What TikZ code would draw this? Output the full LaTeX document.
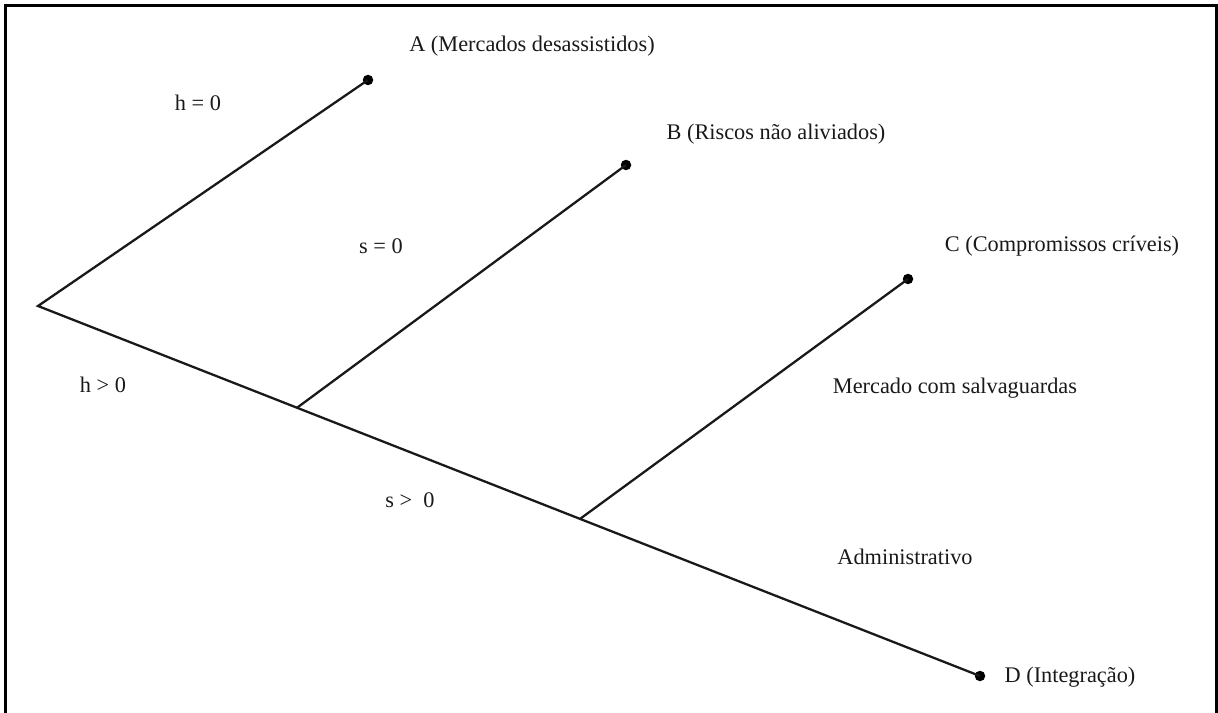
\documentclass[tikz,border=0pt]{standalone}
\usepackage{fontspec}
\setmainfont{Liberation Serif}
\usetikzlibrary{calc}

\begin{document}
\begin{tikzpicture}[x=0.02cm,y=-0.02cm,font=\fontsize{12.7}{15}\selectfont,
 br/.style={line width=1.3pt,draw=black!90},
 dot/.style={circle,fill=black,inner sep=0pt,minimum size=0.21cm},
 lab/.style={inner sep=1pt,text=black!90}]
\useasboundingbox (0,0) rectangle (1218,713);
% frame, open at the bottom
\draw[line width=1.7pt] (5.5,713) -- (5.5,5.5) -- (1216.5,5.5) -- (1216.5,713);
% end points
\coordinate (root) at (38,306);
\node[dot] (dA) at (368,80) {};
\node[dot] (dB) at (626,165) {};
\node[dot] (dC) at (908,279) {};
\node[dot] (dD) at (980,676) {};
\coordinate (j1) at ($(root)!0.275!(dD)$);
\coordinate (j2) at ($(root)!0.5754!(dD)$);
\draw[br] (dA.center) -- (root) -- (dD.center);
\draw[br] (j1) -- (dB.center);
\draw[br] (j2) -- (dC.center);
% labels
\node[lab] (tA) at (532,46) {A (Mercados desassistidos)};
\node[lab] (tB) at (776,134) {B (Riscos não aliviados)};
\node[lab] (tC) at (1062,246) {C (Compromissos críveis)};
\node[lab] (tD) at (1070,677) {D (Integração)};
\node[lab] (tM) at (955,388) {Mercado com salvaguardas};
\node[lab] (tAdm) at (905,557) {Administrativo};
\node[lab] (h0) at (198,103) {h = 0};
\node[lab] (h1) at (103,385) {h > 0};
\node[lab] (s0) at (381,246) {s = 0};
\node[lab] (s1) at (410,500) {s >\ \ 0};
\end{tikzpicture}
\end{document}
